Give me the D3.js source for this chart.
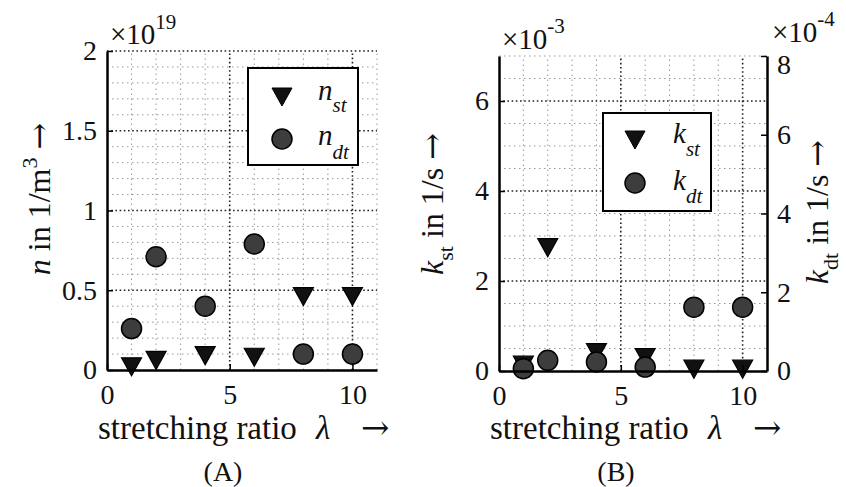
<!DOCTYPE html>
<html>
<head>
<meta charset="utf-8">
<script src="https://cdn.jsdelivr.net/npm/d3@7"></script>
<style>
  body { margin: 0; background: #fff; }
  svg { display: block; }
  text { font-family: "Liberation Serif", "Times New Roman", serif; fill: #111; }
  .arr { font-family: "DejaVu Serif", serif; }
</style>
</head>
<body>
<div id="chart"></div>
<script>
// stretching ratio values
var lambda = [1, 2, 4, 6, 8, 10];
// panel A, in units of 1e19 1/m^3
var nSt = [0.02, 0.06, 0.09, 0.08, 0.46, 0.46];
var nDt = [0.26, 0.71, 0.40, 0.79, 0.10, 0.10];
// panel B, kSt in units of 1e-3 1/s (left axis), kDt in 1e-4 1/s (right axis)
var kSt = [0.13, 2.74, 0.41, 0.30, 0.04, 0.04];
var kDt = [0.06, 0.27, 0.23, 0.10, 1.62, 1.62];

var xTicks = [0, 5, 10];
var nTicks = [0, 0.5, 1, 1.5, 2];
var kStTicks = [0, 2, 4, 6];
var kDtTicks = [0, 2, 4, 6, 8];

var W = 846, H = 487;
var svg = d3.select("#chart").append("svg")
    .attr("width", W).attr("height", H);
svg.append("rect").attr("width", W).attr("height", H).attr("fill", "#fff");

var triPath = "M-10,-9L10,-9L0,9Z";

function grid(g, x, y, xMinor, yMinor, xMajor, yMajor) {
    var x0 = x.range()[0], x1 = x.range()[1];
    var y0 = y.range()[0], y1 = y.range()[1];
    g.selectAll(".vmin").data(xMinor).enter().append("line")
        .attr("x1", function(d) { return x(d); }).attr("x2", function(d) { return x(d); })
        .attr("y1", y0).attr("y2", y1)
        .attr("stroke", "#999").attr("stroke-width", 1).attr("stroke-dasharray", "1.5,3.5");
    g.selectAll(".hmin").data(yMinor).enter().append("line")
        .attr("y1", function(d) { return y(d); }).attr("y2", function(d) { return y(d); })
        .attr("x1", x0).attr("x2", x1)
        .attr("stroke", "#999").attr("stroke-width", 1).attr("stroke-dasharray", "1.5,3.5");
    g.selectAll(".vmaj").data(xMajor).enter().append("line")
        .attr("x1", function(d) { return x(d); }).attr("x2", function(d) { return x(d); })
        .attr("y1", y0).attr("y2", y1)
        .attr("stroke", "#222").attr("stroke-width", 1.6).attr("stroke-dasharray", "1.6,2.6");
    g.selectAll(".hmaj").data(yMajor).enter().append("line")
        .attr("y1", function(d) { return y(d); }).attr("y2", function(d) { return y(d); })
        .attr("x1", x0).attr("x2", x1)
        .attr("stroke", "#222").attr("stroke-width", 1.6).attr("stroke-dasharray", "1.6,2.6");
}

function styleAxis(g) {
    g.attr("font-family", null);
    g.select(".domain").attr("stroke", "#000").attr("stroke-width", 2.5);
    g.selectAll(".tick line").attr("stroke", "#000").attr("stroke-width", 1.5);
    g.selectAll(".tick text").attr("font-size", 28).attr("fill", "#111")
        .style("font-family", '"Liberation Serif", serif');
}

function xLabel(left, base) {
    var t = svg.append("text").attr("y", base).attr("font-size", 33);
    t.append("tspan").attr("x", left - 9).text("stretching ratio");
    t.append("tspan").attr("x", left + 209).attr("font-style", "italic").text("\u03bb");
    t.append("tspan").attr("x", left + 254).attr("class", "arr").attr("font-size", 34).text("\u2192");
}

// ---------------- Panel A ----------------
var xA = d3.scaleLinear().domain([0, 11]).range([107, 377]);
var yA = d3.scaleLinear().domain([0, 2]).range([370, 51]);
var gA = svg.append("g");
grid(gA, xA, yA,
    d3.range(1, 12).filter(function(d) { return d % 5 !== 0; }),
    d3.range(1, 21).map(function(d) { return d / 10; }).filter(function(d) { return Math.round(d * 10) % 5 !== 0; }),
    [5, 10], [0.5, 1, 1.5, 2]);

svg.append("g").attr("transform", "translate(0,370)")
    .call(d3.axisBottom(xA).tickValues(xTicks).tickSizeInner(-6).tickSizeOuter(0).tickPadding(14).tickFormat(d3.format("d")))
    .call(styleAxis);
svg.append("g").attr("transform", "translate(107,0)")
    .call(d3.axisLeft(yA).tickValues(nTicks).tickSizeInner(-6).tickSizeOuter(0).tickPadding(10).tickFormat(function(d) { return String(d); }))
    .call(styleAxis);

gA.selectAll(".tri").data(lambda).enter().append("path")
    .attr("d", triPath)
    .attr("transform", function(d, i) { return "translate(" + xA(d) + "," + yA(nSt[i]) + ")"; })
    .attr("fill", "#111").attr("stroke", "#000").attr("stroke-width", 1.2);
gA.selectAll(".dot").data(lambda).enter().append("circle")
    .attr("cx", function(d) { return xA(d); })
    .attr("cy", function(d, i) { return yA(nDt[i]); })
    .attr("r", 10).attr("fill", "#3d3d3d").attr("stroke", "#000").attr("stroke-width", 1.5);

// exponent
var eA = svg.append("text").attr("x", 110).attr("y", 44).attr("font-size", 29);
eA.append("tspan").text("\u00d710");
eA.append("tspan").attr("font-size", 21).attr("dy", -15).text("19");

// y label
var lA = svg.append("text").attr("transform", "translate(50,199) rotate(-90)")
    .attr("text-anchor", "middle").attr("font-size", 32);
lA.append("tspan").attr("font-style", "italic").text("n");
lA.append("tspan").text(" in 1/m");
lA.append("tspan").attr("font-size", 22).attr("dy", -13).text("3");
lA.append("tspan").attr("dy", 13).text(" ");
lA.append("tspan").attr("class", "arr").text("\u2192");

xLabel(107, 439);
svg.append("text").attr("x", 223).attr("y", 481).attr("text-anchor", "middle").attr("font-size", 28).text("(A)");

// legend A
svg.append("rect").attr("x", 248).attr("y", 68).attr("width", 110).attr("height", 97)
    .attr("fill", "#fff").attr("stroke", "#000").attr("stroke-width", 2);
svg.append("path").attr("d", triPath).attr("transform", "translate(282,97)")
    .attr("fill", "#111").attr("stroke", "#000");
svg.append("circle").attr("cx", 282).attr("cy", 139).attr("r", 10)
    .attr("fill", "#3d3d3d").attr("stroke", "#000").attr("stroke-width", 1.5);
var la1 = svg.append("text").attr("x", 318).attr("y", 100).attr("font-size", 29).attr("font-style", "italic");
la1.append("tspan").text("n");
la1.append("tspan").attr("font-size", 21).attr("dy", 12).text("st");
var la2 = svg.append("text").attr("x", 318).attr("y", 145).attr("font-size", 29).attr("font-style", "italic");
la2.append("tspan").text("n");
la2.append("tspan").attr("font-size", 21).attr("dy", 14).text("dt");

// ---------------- Panel B ----------------
var xB = d3.scaleLinear().domain([0, 11]).range([499, 767]);
var yBl = d3.scaleLinear().domain([0, 7]).range([371, 56]);
var yBr = d3.scaleLinear().domain([0, 8]).range([371, 56]);
var gB = svg.append("g");
grid(gB, xB, yBl,
    d3.range(1, 11).filter(function(d) { return d % 5 !== 0; }),
    d3.range(1, 15).map(function(d) { return d / 2; }).filter(function(d) { return d % 2 !== 0; }),
    [5, 10], [2, 4, 6]);

svg.append("g").attr("transform", "translate(0,371)")
    .call(d3.axisBottom(xB).tickValues(xTicks).tickSizeInner(-6).tickSizeOuter(0).tickPadding(14).tickFormat(d3.format("d")))
    .call(styleAxis);
svg.append("g").attr("transform", "translate(499,0)")
    .call(d3.axisLeft(yBl).tickValues(kStTicks).tickSizeInner(-6).tickSizeOuter(0).tickPadding(10).tickFormat(d3.format("d")))
    .call(styleAxis);
var rAx = svg.append("g").attr("transform", "translate(767,0)")
    .call(d3.axisRight(yBr).tickValues(kDtTicks).tickSizeInner(-6).tickSizeOuter(0).tickPadding(10).tickFormat(d3.format("d")))
    .call(styleAxis);
// top label sits a little lower, below the exponent
rAx.selectAll(".tick text").filter(function(d) { return d === 8; }).attr("dy", "0.62em");

gB.selectAll(".tri").data(lambda).enter().append("path")
    .attr("d", triPath)
    .attr("transform", function(d, i) { return "translate(" + xB(d) + "," + yBl(kSt[i]) + ")"; })
    .attr("fill", "#111").attr("stroke", "#000").attr("stroke-width", 1.2);
gB.selectAll(".dot").data(lambda).enter().append("circle")
    .attr("cx", function(d) { return xB(d); })
    .attr("cy", function(d, i) { return yBr(kDt[i]); })
    .attr("r", 10).attr("fill", "#3d3d3d").attr("stroke", "#000").attr("stroke-width", 1.5);

var eB1 = svg.append("text").attr("x", 502).attr("y", 49).attr("font-size", 29);
eB1.append("tspan").text("\u00d710");
eB1.append("tspan").attr("font-size", 21).attr("dy", -16).text("-3");
var eB2 = svg.append("text").attr("x", 772).attr("y", 42).attr("font-size", 29);
eB2.append("tspan").text("\u00d710");
eB2.append("tspan").attr("font-size", 21).attr("dy", -16).text("-4");

var lB1 = svg.append("text").attr("transform", "translate(443,204) rotate(-90)")
    .attr("text-anchor", "middle").attr("font-size", 32);
lB1.append("tspan").attr("font-style", "italic").text("k");
lB1.append("tspan").attr("font-size", 22).attr("dy", 10).text("st");
lB1.append("tspan").attr("dy", -10).text(" in 1/s ");
lB1.append("tspan").attr("class", "arr").text("\u2192");

var lB2 = svg.append("text").attr("transform", "translate(828,212) rotate(-90)")
    .attr("text-anchor", "middle").attr("font-size", 32);
lB2.append("tspan").attr("font-style", "italic").text("k");
lB2.append("tspan").attr("font-size", 22).attr("dy", 10).text("dt");
lB2.append("tspan").attr("dy", -10).text(" in 1/s ");
lB2.append("tspan").attr("class", "arr").text("\u2192");

xLabel(499, 439);
svg.append("text").attr("x", 616).attr("y", 481).attr("text-anchor", "middle").attr("font-size", 28).text("(B)");

// legend B
svg.append("rect").attr("x", 603).attr("y", 113).attr("width", 108).attr("height", 98)
    .attr("fill", "#fff").attr("stroke", "#000").attr("stroke-width", 2);
svg.append("path").attr("d", triPath).attr("transform", "translate(635,140)")
    .attr("fill", "#111").attr("stroke", "#000");
svg.append("circle").attr("cx", 635).attr("cy", 183).attr("r", 10)
    .attr("fill", "#3d3d3d").attr("stroke", "#000").attr("stroke-width", 1.5);
var lb1 = svg.append("text").attr("x", 673).attr("y", 143).attr("font-size", 29).attr("font-style", "italic");
lb1.append("tspan").text("k");
lb1.append("tspan").attr("font-size", 21).attr("dy", 13).text("st");
var lb2 = svg.append("text").attr("x", 673).attr("y", 190).attr("font-size", 29).attr("font-style", "italic");
lb2.append("tspan").text("k");
lb2.append("tspan").attr("font-size", 21).attr("dy", 13).text("dt");
</script>
</body>
</html>
